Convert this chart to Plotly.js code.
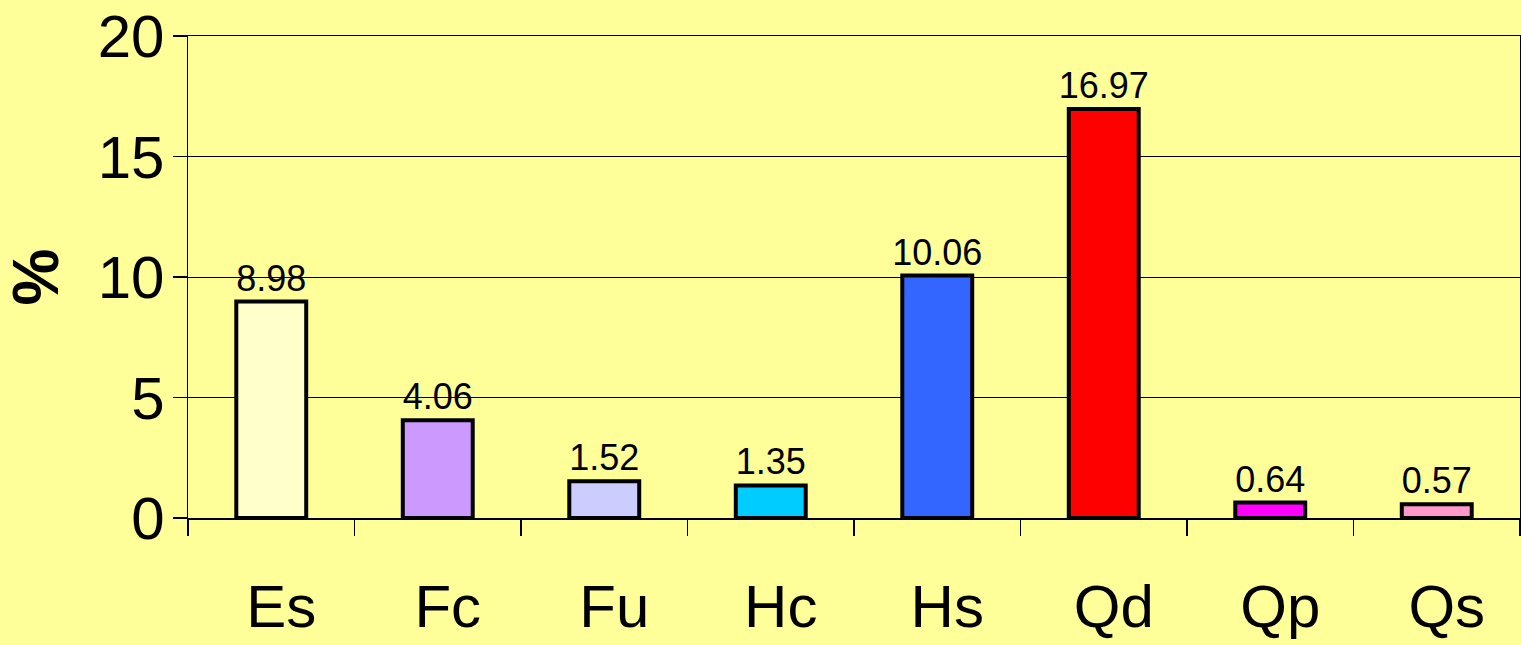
<!DOCTYPE html>
<html>
<head>
<meta charset="utf-8">
<script src="https://cdn.plot.ly/plotly-3.0.1.min.js"></script>
<style>html,body{margin:0;padding:0;background:#FFFF99;}#chart{width:1521px;height:645px;}</style>
</head>
<body>
<div id="chart"></div>
<script>
var categories = ["Es", "Fc", "Fu", "Hc", "Hs", "Qd", "Qp", "Qs"];
var values = [8.98, 4.06, 1.52, 1.35, 10.06, 16.97, 0.64, 0.57];
var valueLabels = ["8.98", "4.06", "1.52", "1.35", "10.06", "16.97", "0.64", "0.57"];
var barColors = ["#FFFFCC", "#CC99FF", "#CCCCFF", "#00CCFF", "#3366FF", "#FF0000", "#FF00FF", "#FF99CC"];
var yTicks = [0, 5, 10, 15, 20];

var trace = {
  type: "bar",
  x: categories,
  y: values,
  text: valueLabels,
  textposition: "outside",
  constraintext: "none",
  cliponaxis: false,
  textfont: {family: "'Liberation Sans', Arial, sans-serif", size: 36, color: "#000000"},
  width: 0.42,
  marker: {color: barColors, line: {color: "#000000", width: 4}},
  hoverinfo: "none"
};

var layout = {
  width: 1521,
  height: 645,
  paper_bgcolor: "#FFFF99",
  plot_bgcolor: "#FFFF99",
  margin: {l: 188, r: 1, t: 36, b: 127},
  showlegend: false,
  font: {family: "'Liberation Sans', Arial, sans-serif", color: "#000000"},
  xaxis: {
    type: "category",
    tickson: "boundaries",
    ticks: "outside",
    ticklen: 16,
    tickwidth: 1.5,
    tickcolor: "#000000",
    showline: true,
    linecolor: "#000000",
    linewidth: 1.5,
    mirror: true,
    showgrid: false,
    tickfont: {size: 60, family: "'Liberation Sans', Arial, sans-serif", color: "#000000"},
    ticklabelstandoff: 35,
    ticklabelshift: 10,
    automargin: false
  },
  yaxis: {
    range: [0, 20],
    tickvals: yTicks,
    ticktext: yTicks.map(String),
    ticks: "outside",
    ticklen: 14,
    tickwidth: 1.5,
    tickcolor: "#000000",
    showline: true,
    linecolor: "#000000",
    linewidth: 1.5,
    mirror: true,
    showgrid: true,
    gridcolor: "#000000",
    gridwidth: 1,
    zeroline: false,
    tickfont: {size: 60, family: "'Liberation Sans', Arial, sans-serif", color: "#000000"},
    ticklabelstandoff: -4,
    title: {text: "<b>%</b>", font: {size: 64, family: "'Liberation Sans', Arial, sans-serif", color: "#000000"}, standoff: 24},
    automargin: false
  }
};

Plotly.newPlot("chart", [trace], layout, {staticPlot: true, displayModeBar: false});
</script>
</body>
</html>
